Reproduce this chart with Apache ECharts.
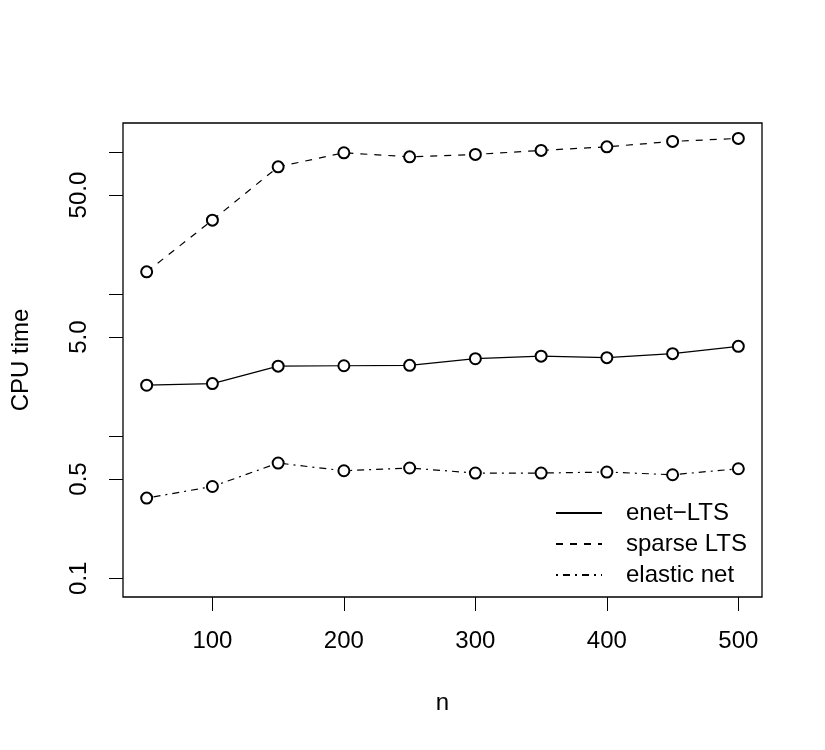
<!DOCTYPE html>
<html>
<head>
<meta charset="utf-8">
<script src="https://cdn.jsdelivr.net/npm/echarts@6/dist/echarts.min.js"></script>
<style>
  html, body { margin: 0; padding: 0; background: #fff; }
  #chart { width: 825px; height: 750px; }
</style>
</head>
<body>
<div id="chart"></div>
<script>
// sample sizes
var nValues = [50, 100, 150, 200, 250, 300, 350, 400, 450, 500];
// CPU time (log scale)
var enetLTS = [2.29, 2.35, 3.12, 3.14, 3.16, 3.52, 3.67, 3.58, 3.82, 4.30];
var sparseLTS = [14.4, 33.3, 79.1, 99.3, 93.0, 96.7, 103.2, 109.4, 119.4, 125.4];
var elasticNet = [0.367, 0.443, 0.648, 0.572, 0.598, 0.551, 0.551, 0.560, 0.536, 0.591];
// axis ticks
var xTicks = [100, 200, 300, 400, 500];
var yTicks = [0.1, 0.5, 1, 5, 10, 50, 100];
var yLabels = [0.1, 0.5, 5, 50];

var seriesNames = ['enet\u2212LTS', 'sparse LTS', 'elastic net'];

function pairs(ys) {
    return nValues.map(function (x, i) { return [x, ys[i]]; });
}

var font = 'Liberation Sans, Arial, Helvetica, sans-serif';

var myChart = echarts.init(document.getElementById('chart'), null, {renderer: 'canvas'});

function lineSeries(name, ys, dash) {
    return {
        name: name,
        type: 'line',
        data: pairs(ys),
        symbol: 'emptyCircle',
        symbolSize: 11,
        itemStyle: { color: '#000', borderColor: '#000', borderWidth: 1.2 },
        lineStyle: { color: '#000', width: 1.2, type: dash },
        emphasis: { disabled: true },
        animation: false
    };
}

var option = {
    backgroundColor: '#fff',
    textStyle: { fontFamily: font },
    grid: {
        left: 123, right: 63, top: 123, bottom: 153,
        outerBoundsMode: 'none',
        show: true, borderColor: '#000', borderWidth: 1.3
    },
    legend: {
        data: seriesNames,
        orient: 'vertical',
        left: 550,
        top: 496,
        itemWidth: 46,
        itemHeight: 14,
        itemGap: 7,
        itemStyle: { opacity: 0 },
        textStyle: { fontSize: 24, color: '#000', fontFamily: font, padding: [0, 0, 0, 19] },
        selectedMode: false
    },
    xAxis: {
        type: 'value',
        min: 32,
        max: 518,
        name: 'n',
        nameLocation: 'middle',
        nameGap: 94,
        nameTextStyle: { fontSize: 24, color: '#000', fontFamily: font },
        axisLine: { show: false },
        splitLine: { show: false },
        axisTick: { show: true, length: 14, lineStyle: { color: '#000', width: 1 }, customValues: xTicks },
        axisLabel: { fontSize: 24, color: '#000', margin: 32, customValues: xTicks }
    },
    yAxis: {
        type: 'log',
        logBase: 10,
        min: 0.0738,
        max: 161,
        name: 'CPU time',
        nameLocation: 'middle',
        nameGap: 90,
        nameTextStyle: { fontSize: 24, color: '#000', fontFamily: font },
        axisLine: { show: false },
        splitLine: { show: false },
        minorTick: { show: false },
        axisTick: { show: true, length: 14, lineStyle: { color: '#000', width: 1 }, customValues: yTicks },
        axisLabel: {
            fontSize: 24, color: '#000', margin: 32, rotate: 90,
            customValues: yLabels,
            formatter: function (v) { return Number(v).toFixed(1); }
        }
    },
    series: [
        lineSeries(seriesNames[0], enetLTS, 'solid'),
        lineSeries(seriesNames[1], sparseLTS, [7, 7]),
        lineSeries(seriesNames[2], elasticNet, [2, 5, 7, 5])
    ]
};

myChart.setOption(option);
</script>
</body>
</html>
